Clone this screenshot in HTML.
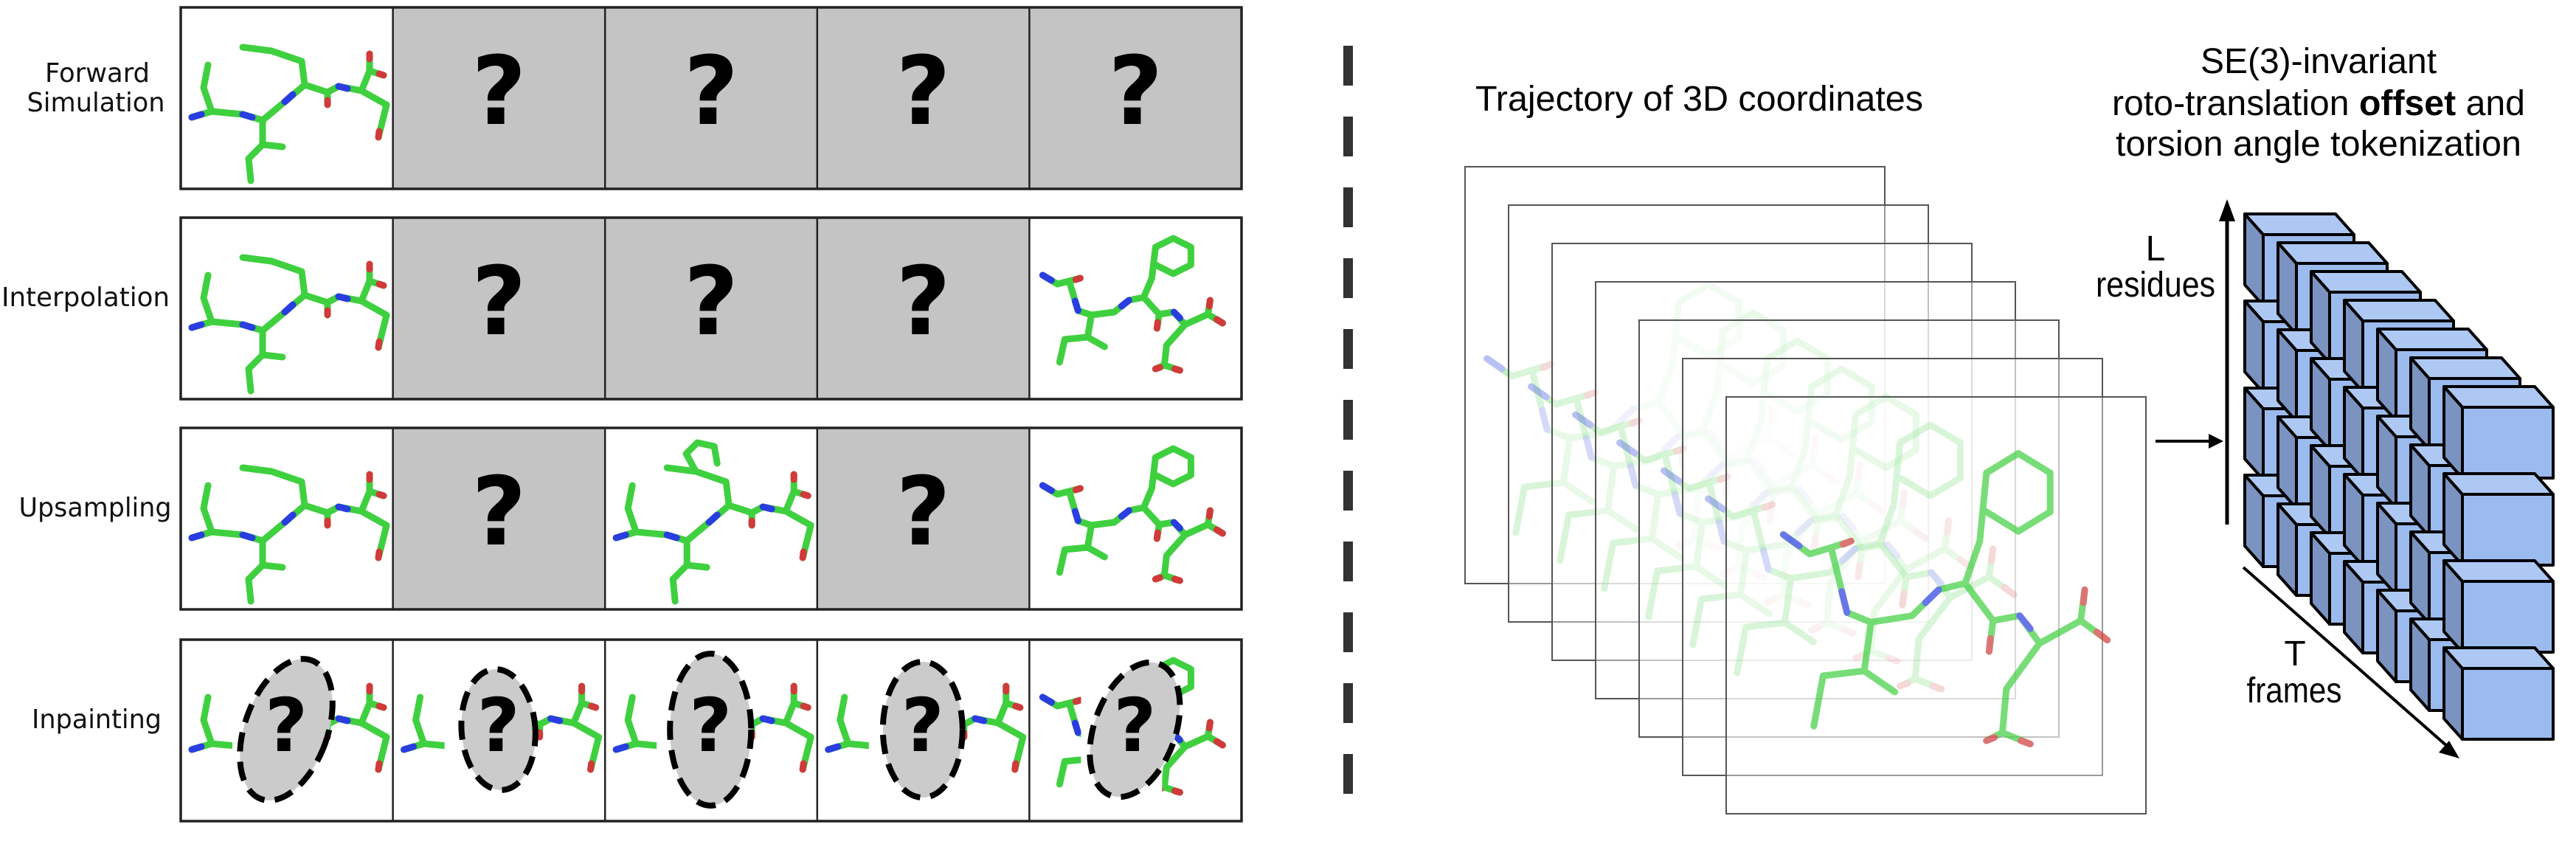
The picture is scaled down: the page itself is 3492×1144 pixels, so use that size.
<!DOCTYPE html>
<html><head><meta charset="utf-8">
<style>
html,body{margin:0;padding:0;background:#fff;}
svg{display:block;}
.lbl{font-family:"DejaVu Sans Condensed","DejaVu Sans",sans-serif;font-size:36px;fill:#111;}
.rt{font-family:"Liberation Sans Narrow","Liberation Sans",sans-serif;font-size:48px;fill:#000;}
.q{font-family:"DejaVu Sans","Liberation Sans",sans-serif;font-weight:bold;fill:#000;text-anchor:middle;}
</style></head>
<body>
<svg id="fig" width="3492" height="1144" viewBox="0 0 3492 1144" xmlns="http://www.w3.org/2000/svg">
<defs>
  <g id="molA" fill="none" stroke-linecap="round" stroke-linejoin="round">
    <path stroke="#3fd03f" stroke-width="9" vector-effect="non-scaling-stroke" d="M15,149 L42,141 L84,145 L111,153 L141,128 L168,105 L199,115 L214,107 L245,113 L256,86 L256,63 M168,105 L164,73 L123,59 L84,54 M199,115 L199,132 M256,86 L275,92 M245,113 L279,132 L268,176 M42,141 L31,109 L37,78 M111,153 L111,186 L138,189 M111,186 L92,205 L95,235"/>
    <path stroke="#2a3de0" stroke-width="9" vector-effect="non-scaling-stroke" d="M15,149 L28,145 M84,145 L97,149 M141,128 L152,118 M214,107 L226,110"/>
    <path stroke="#d03a3a" stroke-width="9" vector-effect="non-scaling-stroke" d="M256,63 L256,70 M275,92 L269,90 M199,132 L199,126 M268,176 L269,168"/>
  </g>
  <g id="molB" fill="none" stroke-linecap="round" stroke-linejoin="round">
    <path stroke="#3fd03f" stroke-width="9" vector-effect="non-scaling-stroke" d="M18,78 L38,90 L54,86 L69,82 M54,86 L66,126 L84,132 L115,128 L135,112 L155,108 L166,82 M155,108 L176,131 L173,150 M176,131 L196,128 L211,145 L242,131 L262,143 M242,131 L245,112 M211,145 L186,173 L183,200 L171,205 M183,200 L204,207 M84,132 L79,162 L102,175 M79,162 L48,165 L41,196 M166,82 L171,40 L195,28 L219,40 L219,64 L195,76 L171,64"/>
    <path stroke="#2a3de0" stroke-width="9" vector-effect="non-scaling-stroke" d="M18,78 L30,85 M66,126 L62,113 M135,112 L125,120 M196,128 L204,136"/>
    <path stroke="#d03a3a" stroke-width="9" vector-effect="non-scaling-stroke" d="M69,82 L63,84 M173,150 L174,142 M262,143 L254,138 M245,112 L244,120 M171,205 L177,203 M204,207 L197,205"/>
  </g>
  <g id="molC" fill="none" stroke-linecap="round" stroke-linejoin="round">
    <use href="#molA"/>
    <path stroke="#3fd03f" stroke-width="9" d="M123,59 L110,35 L125,20 L148,25 L152,48"/>
  </g>
  <clipPath id="sideclip"><rect x="0" y="0" width="70" height="246"/><rect x="180" y="0" width="110" height="246"/></clipPath>
</defs>

<g id="left-panel"></g>

<g id="divider"></g>

<g id="traj"></g>
<text class="rt" x="2000" y="150" textLength="607" lengthAdjust="spacingAndGlyphs">Trajectory of 3D coordinates</text>

<g>
  <text class="rt" x="3143" y="99" text-anchor="middle">SE(3)-invariant</text>
  <text class="rt" x="2863" y="156" textLength="560" lengthAdjust="spacingAndGlyphs">roto-translation <tspan font-weight="bold">offset</tspan> and</text>
  <text class="rt" x="2868" y="211" textLength="550" lengthAdjust="spacingAndGlyphs">torsion angle tokenization</text>
</g>

<g>
  <line x1="2922" y1="598" x2="2998" y2="598" stroke="#000" stroke-width="4"/>
  <polygon points="3014,598 2994,588 2994,608" fill="#000"/>
</g>
<g>
  <line x1="3019" y1="711" x2="3019" y2="292" stroke="#000" stroke-width="5"/>
  <polygon points="3019,270 3008,300 3030,300" fill="#000"/>
</g>
<text class="rt" x="2922" y="353" text-anchor="middle" font-size="40">L</text>
<text class="rt" x="2922" y="402" text-anchor="middle" font-size="40" textLength="162" lengthAdjust="spacingAndGlyphs">residues</text>
<g>
  <line x1="3041" y1="769" x2="3318" y2="1012" stroke="#000" stroke-width="4"/>
  <polygon points="3334,1028 3306,1020 3320,1004" fill="#000"/>
</g>
<text class="rt" x="3111" y="902" text-anchor="middle" font-size="40">T</text>
<text class="rt" x="3110" y="952" text-anchor="middle" font-size="40" textLength="129" lengthAdjust="spacingAndGlyphs">frames</text>

<g id="cubes"></g>
</svg>

<script>
const SVGNS = "http://www.w3.org/2000/svg";
function mk(tag, attrs, parent){
  const e = document.createElementNS(SVGNS, tag);
  for (const k in attrs) e.setAttribute(k, attrs[k]);
  parent.appendChild(e);
  return e;
}
// ---------- left task grid ----------
const taskNames = ["Forward Simulation","Interpolation","Upsampling","Inpainting"];
const cellKinds = [
  ["A","Q","Q","Q","Q"],
  ["A","Q","Q","Q","B"],
  ["A","Q","C","Q","B"],
  ["IA","IA","IA","IA","IB"]
];
const ellipseRx = [56,50,55,54,55];
const ellipseRy = [100,82,103,92,95];
const ellipseRot = [20,-4,0,0,20];

const grid = document.getElementById("left-panel");
const rowY = [10,295,580,867];
const gx = 245, cw = 287.6, ch = 246;
for (let r=0;r<4;r++){
  const y = rowY[r];
  for (let c=0;c<5;c++){
    const x = gx + c*cw;
    const kind = cellKinds[r][c];
    const g = mk("g",{transform:`translate(${x},${y})`},grid);
    
    
    mk("rect",{x:0,y:0,width:cw,height:ch,fill: kind==="Q" ? "#c4c4c4" : "#fff"},g);
    if (kind==="Q"){
      const t = mk("text",{x:cw/2,y:158,"class":"q","font-size":128},g);
      t.textContent = "?";
      
      
    } else if (kind==="A"||kind==="B"||kind==="C"){
      const u = mk("use",{href:"#mol"+kind},g);
      
      
    } else {
      const u = mk("use",{href:"#mol"+kind[1],"clip-path":"url(#sideclip)"},g);
      
      
      const el = mk("ellipse",{cx:143,cy:122,rx:ellipseRx[c],ry:ellipseRy[c],fill:"#cbcbcb",stroke:"#000","stroke-width":8,"stroke-dasharray":"26 14",transform:`rotate(${ellipseRot[c]} 143 122)`},g);
      
      
      const t = mk("text",{x:143,y:151,"class":"q","font-size":100},g);
      t.textContent = "?";
      
      
    }
    if (c>0) mk("line",{x1:0,y1:0,x2:0,y2:ch,stroke:"#222","stroke-width":2.5},g);
  }
  const border = mk("rect",{x:gx,y:y,width:cw*5,height:ch,fill:"none",stroke:"#222","stroke-width":3.5},grid);
  
  
}
const lblSpec = [
  [["Forward",132,111,142],["Simulation",130,151,187]],
  [["Interpolation",116,415,228]],
  [["Upsampling",129,700,207]],
  [["Inpainting",131,987,176]]
];
for (let r=0;r<4;r++){
  for (const [txt,cx,by,w] of lblSpec[r]){
    const t = mk("text",{x:cx,y:by,"class":"lbl","text-anchor":"middle",textLength:w,lengthAdjust:"spacingAndGlyphs"},grid);
    t.textContent = txt;
    
    
  }
}
// ---------- divider ----------
const div = document.getElementById("divider");
for (let i=0;i<11;i++){
  const d = mk("rect",{x:1821,y:62+i*96,width:13,height:54,fill:"#333"},div);
  
  
}
// ---------- trajectory frames ----------
const traj = document.getElementById("traj");
const nFrames = 7;
for (let i=0;i<nFrames;i++){
  const fx = 1986 + i*59, fy = 226 + i*52;
  const fr = mk("rect",{x:fx,y:fy,width:569,height:565,fill:"#fff","fill-opacity":0.4,stroke:"#555","stroke-width":2},traj);
  
  
  if (i<nFrames-1){
    const m = mk("use",{href:"#molB",transform:`translate(${1985+i*60},${330+i*38}) scale(1.7,2.0)`,opacity:0.32},traj);
    
    
  }
}
const fm = mk("use",{href:"#molB",transform:"translate(2385,553) scale(1.8,2.2)",opacity:0.7},traj);



// ---------- cubes ----------
const cubes = document.getElementById("cubes");
const nCols = 7, nRows = 4;
const fw = 123, fh = 96, ddx = -25, ddy = -28;
for (let i=0;i<nCols;i++){
  const cx = 3068 + i*45, cy0 = 318 + i*39;
  for (let r=0;r<nRows;r++){
    const x = cx, y = cy0 + r*118;
    const g = mk("g",{stroke:"#000","stroke-width":4,"stroke-linejoin":"round"},cubes);
    
    
    mk("polygon",{points:`${x},${y} ${x+ddx},${y+ddy} ${x+ddx},${y+ddy+fh} ${x},${y+fh}`,fill:"#7a93c0"},g);
    mk("polygon",{points:`${x},${y} ${x+ddx},${y+ddy} ${x+ddx+fw},${y+ddy} ${x+fw},${y}`,fill:"#adc8f3"},g);
    mk("rect",{x:x,y:y,width:fw,height:fh,fill:"#9bbbef"},g);
  }
}
</script>
</body></html>
